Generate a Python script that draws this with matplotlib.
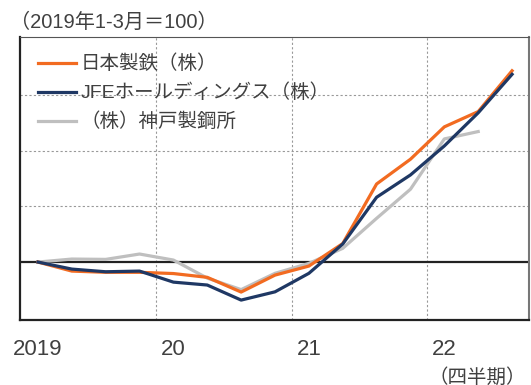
import numpy as np
import matplotlib
matplotlib.use("Agg")
import matplotlib.pyplot as plt

plt.rcParams['font.family'] = ['Liberation Sans', 'Noto Sans CJK JP', 'DejaVu Sans']

# 2019Q1 .. 2022Q3 (2019年1-3月=100)
quarters = np.arange(15)
nippon_steel = [100, 91.9, 90.8, 90.8, 89.7, 86.3, 73.1, 88.3, 96.4, 116.6, 170.0, 192.2, 221.2, 234.9, 271.5]
jfe = [100, 93.7, 91.3, 91.9, 82.0, 79.4, 65.9, 73.3, 89.9, 116.2, 158.1, 178.1, 204.1, 233.8, 268.3]
kobe = [100, 102.7, 102.4, 107.2, 101.8, 85.6, 75.3, 89.9, 98.8, 112.3, 139.2, 165.3, 210.4, 217.0]

year_pos = [0, 4, 8, 12]
year_labels = ["2019", "20", "21", "22"]
names = ["日本製鉄（株）", "JFEホールディングス（株）", "（株）神戸製鋼所"]
colors = ["#F26B21", "#1F3864", "#BFBFBF"]

fig = plt.figure(figsize=(5.31, 3.85), dpi=100)
ax = fig.add_axes([20/531, (385-319.5)/385, (529-20)/531, (319.5-37.3)/385])

grid_kw = dict(color="#999999", lw=0.8, ls=(0, (2, 2)), zorder=1)
for y in [150, 200, 250]:
    ax.axhline(y, **grid_kw)
for x in [3.5, 7.5, 11.5]:
    ax.axvline(x, **grid_kw)
ax.axhline(100, color="#222222", lw=1.6, zorder=2)

# grey first so it sits under the others
ax.plot(quarters[:len(kobe)], kobe, color=colors[2], lw=2.3, zorder=3, label=names[2])
ax.plot(quarters, jfe, color=colors[1], lw=2.3, zorder=4, label=names[1])
ax.plot(quarters, nippon_steel, color=colors[0], lw=2.3, zorder=3.5, label=names[0])

ax.set_xlim(-0.53, 14.5)
ax.set_ylim(48.5, 301.5)
ax.set_yticks([])
ax.set_xticks(year_pos, year_labels)
ax.tick_params(axis="x", length=0, pad=14, labelsize=16, labelcolor="#404040")

for side in ["left", "bottom"]:
    ax.spines[side].set_color("#222222")
    ax.spines[side].set_linewidth(1.6)
ax.spines["top"].set_color("#555555")
ax.spines["top"].set_linewidth(0.8)
ax.spines["right"].set_color("#777777")
ax.spines["right"].set_linewidth(1.5)

h, l = ax.get_legend_handles_labels()
order = [2, 1, 0]
leg = ax.legend([h[i] for i in order], [l[i] for i in order], loc="upper left",
                frameon=False, fontsize=14, handlelength=2.0, handletextpad=0.2,
                labelspacing=0.53, borderaxespad=0.5, bbox_to_anchor=(0.0, 1.0))
for t in leg.get_texts():
    t.set_color("#404040")

fig.text(10/531, 1 - 22/385, "（2019年1-3月＝100）", fontsize=14.5, color="#404040",
         ha="left", va="center")
fig.text(428/531, 1 - 377/385, "（四半期）", fontsize=14, color="#404040",
         ha="left", va="center")

fig.savefig("out.png", dpi=100)
